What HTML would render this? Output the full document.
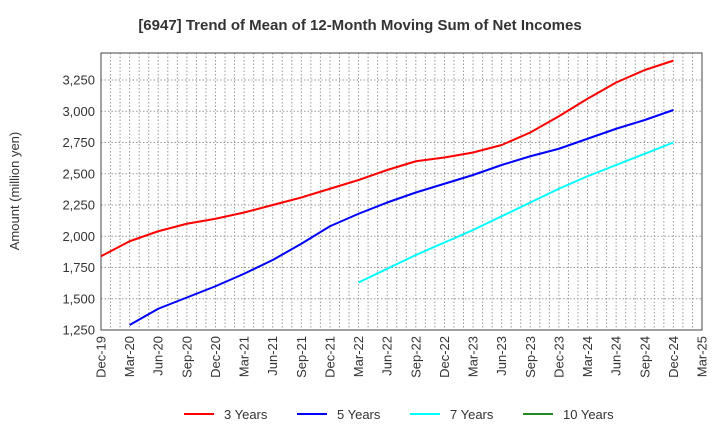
<!DOCTYPE html>
<html><head><meta charset="utf-8"><style>
body{margin:0;background:#fff;}
svg text{font-family:"Liberation Sans",sans-serif;fill:#333;}
</style></head><body>
<svg id="chart" width="720" height="440" xmlns="http://www.w3.org/2000/svg">
<rect width="720" height="440" fill="#fff"/>
<text x="360" y="30" text-anchor="middle" font-size="15" font-weight="bold">[6947]  Trend of Mean of 12-Month Moving Sum of Net Incomes</text>
<text transform="translate(19,191) rotate(-90)" text-anchor="middle" font-size="13">Amount (million yen)</text>
<g id="grid"></g><g id="axes"></g><g id="series"></g><g id="legend"></g>
</svg>
<script>
const xLabels=["Dec-19","Mar-20","Jun-20","Sep-20","Dec-20","Mar-21","Jun-21","Sep-21","Dec-21","Mar-22","Jun-22","Sep-22","Dec-22","Mar-23","Jun-23","Sep-23","Dec-23","Mar-24","Jun-24","Sep-24","Dec-24","Mar-25"];
const yTicks=[1250,1500,1750,2000,2250,2500,2750,3000,3250];
const s3=[1840,1960,2040,2100,2140,2190,2250,2310,2380,2450,2530,2600,2630,2670,2730,2830,2960,3100,3230,3330,3405];
const s5=[null,1290,1420,1510,1600,1700,1810,1940,2080,2180,2270,2350,2420,2490,2570,2640,2700,2780,2860,2930,3010];
const s7=[null,null,null,null,null,null,null,null,null,1630,1740,1850,1950,2050,2160,2270,2380,2480,2570,2660,2750];
const s10=[];
const seriesNames=["3 Years","5 Years","7 Years","10 Years"];
const L=101,R=702,T=53,B=330,yMin=1250,yMax=3466;
const NS="http://www.w3.org/2000/svg";
const months=(xLabels.length-1)*3;
function xq(i){return L+(R-L)*i*3/months;}
function xm(m){return L+(R-L)*m/months;}
function y(v){return B-(v-yMin)/(yMax-yMin)*(B-T);}
function mk(t,a,p){const e=document.createElementNS(NS,t);for(const k in a)e.setAttribute(k,a[k]);p.appendChild(e);return e;}
const grid=document.getElementById('grid'),axes=document.getElementById('axes'),ser=document.getElementById('series'),leg=document.getElementById('legend');
for(let m=1;m<months;m++){const l=mk('line',{x1:xm(m),x2:xm(m),y1:T,y2:B,stroke:'#999','stroke-dasharray':'1.5,2','stroke-width':1},grid);

}
yTicks.forEach(v=>{const l=mk('line',{x1:L,x2:R,y1:y(v),y2:y(v),stroke:'#999','stroke-dasharray':'1.5,2','stroke-width':1},grid);


const t=mk('text',{x:L-6,y:y(v)+4.5,'text-anchor':'end','font-size':13},axes);t.textContent=v.toLocaleString('en-US');

});
xLabels.forEach((s,i)=>{const t=mk('text',{transform:`translate(${xq(i)+4.5},${B+6}) rotate(-90)`,'text-anchor':'end','font-size':13},axes);t.textContent=s;

});
const frame=mk('rect',{x:L,y:T,width:R-L,height:B-T,fill:'none',stroke:'#444','stroke-width':1},axes);


const cols=['#ff0000','#0000ff','#00ffff','#228b22'];
[s3,s5,s7,s10].forEach((d,k)=>{const pts=[];d.forEach((v,i)=>{if(v!=null)pts.push(xq(i)+','+y(v));});
if(pts.length){const p=mk('polyline',{points:pts.join(' '),fill:'none',stroke:cols[k],'stroke-width':2,'stroke-linejoin':'round'},ser);

}
const lx=[184,297,410,523][k];
const g=mk('g',{},leg);


mk('line',{x1:lx,x2:lx+30,y1:414,y2:414,stroke:cols[k],'stroke-width':2},g);
const t=mk('text',{x:lx+40,y:419,'font-size':13},g);t.textContent=seriesNames[k];});
</script>
</body></html>
